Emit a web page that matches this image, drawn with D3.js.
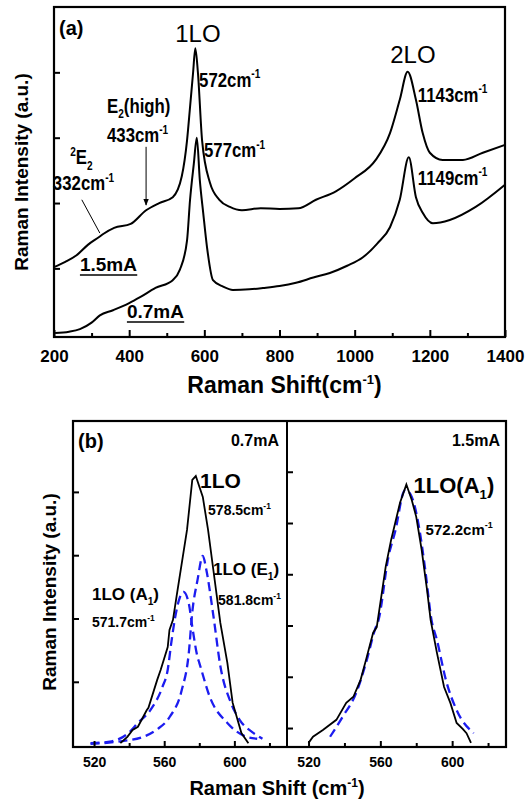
<!DOCTYPE html>
<html>
<head>
<meta charset="utf-8">
<script src="https://cdn.jsdelivr.net/npm/d3@7"></script>
<style>
  body { margin: 0; background: #fff; }
  text { font-family: "Liberation Sans", Arial, sans-serif; fill: #000; }
</style>
</head>
<body>
<svg id="chart" width="526" height="801"></svg>
<script>
// ---- panel (a): full spectra, Raman shift (cm-1) vs intensity (a.u.)
const shift15 = [200,230,260,290,320,332,360,404,445,480,516,540,554,562,570,576,583,594,615,640,668,700,750,800,850,897,950,1000,1056,1094,1120,1141,1163,1181,1200,1234,1288,1341,1400];
const int15   = [1.02,1.10,1.20,1.36,1.48,1.53,1.62,1.68,1.89,2.00,2.09,2.41,2.96,3.47,3.99,4.37,3.99,2.96,2.31,2.05,1.94,1.89,1.92,1.91,1.92,2.05,2.18,2.38,2.66,3.07,3.58,4.01,3.58,3.07,2.77,2.66,2.66,2.77,2.89];
const shift07 = [203,240,269,300,322,357,400,429,470,516,535,554,562,572,580,588,597,607,623,650,676,720,756,800,844,890,934,980,1022,1060,1094,1120,1144,1163,1181,1208,1253,1322,1400];
const int07   = [0.01,0.03,0.07,0.17,0.28,0.36,0.47,0.56,0.70,0.82,0.98,1.43,2.05,2.60,3.00,2.35,1.85,1.33,0.82,0.72,0.67,0.68,0.70,0.73,0.78,0.86,0.93,1.04,1.17,1.38,1.63,2.05,2.70,2.09,1.85,1.69,1.74,1.94,2.28];
const ticksA = [200,400,600,800,1000,1200,1400];
const minorA = [300,500,700,900,1100,1300];
const yTicksA = [1,2,3,4];

// ---- panel (b): 1LO band, measured (black) and fitted (blue dashed)
const shiftB07 = [535,539,542,545,550,551,556,558,562,563,565,567,573,576,578,582,585,588,592,596,599,604,608];
const intB07   = [0.03,0.13,0.24,0.29,0.55,0.59,1.03,1.19,1.55,1.82,1.98,2.34,3.40,4.19,4.25,3.92,3.40,2.77,1.93,1.30,0.67,0.19,0.03];
const shiftA1  = [518,530,540,545,552,559,562,564,566,569,571,574,576,579,580,586,596,607,613];
const intA1    = [0.03,0.06,0.20,0.35,0.55,0.92,1.19,1.61,1.98,2.34,2.42,2.24,1.87,1.39,1.30,0.76,0.35,0.13,0.10];
const shiftE1  = [518,535,548,556,563,570,574,576,579,582,584,588,592,598,603,611,616];
const intE1    = [0.02,0.06,0.13,0.25,0.44,0.87,1.45,2.10,2.61,2.99,2.77,2.05,1.25,0.67,0.40,0.19,0.10];
const shiftB15 = [520,522.5,528,535.5,541,545,549,552,556,558,563,566,571,574.5,577.5,580,583,586,588,591.5,595.5,599,602.5,606,608,610.5];
const intB15   = [0.71,0.83,0.96,1.16,1.49,1.61,1.94,2.33,2.86,2.97,4.15,4.67,5.40,5.75,5.45,5.12,4.48,3.70,3.11,2.47,1.80,1.49,1.10,0.98,0.90,0.71];
const shiftFit15 = [532,539,546.5,552,557,559,564.5,568.5,573,574,577.5,581.5,585,588.5,591.5,596.5,602.5,612];
const intFit15   = [0.83,1.22,1.68,2.27,2.92,3.11,4.34,4.87,5.61,5.65,5.51,4.93,4.09,3.11,2.72,1.94,1.35,0.90];
const ticksB = [520,560,600];
const minorB = [540,580,620];
const yTicksBL = [1,2,3,4];
const yTicksBR = [1,2,3,4,5,6];

const svg = d3.select('#chart');
const zip = (xs, ys) => xs.map((x, i) => ({ x: x, y: ys[i] }));

// text with sub/superscripts: parts = [[string, 'sup'|'sub'|undefined], ...]
function rich(g, x, y, parts, o) {
  const t = g.append('text')
  .attr('transform', `translate(${x},${y}) scale(${o.sx || 1},1)`)
  .attr('font-size', o.size)
  .attr('font-weight', o.weight || 'bold')
  .attr('text-anchor', o.anchor || 'start');
  let prev = 0;
  parts.forEach(function (p) {
    const off = p[1] === 'sup' ? -0.42 * o.size : p[1] === 'sub' ? 0.28 * o.size : 0;
    t.append('tspan')
    .attr('dy', off - prev)
    .attr('font-size', p[1] ? o.size * 0.6 : o.size)
    .text(p[0]);
    prev = off;
  });
  return t;
}
const cm = v => [[v + 'cm'], ['-1', 'sup']];

// ================= panel (a)
const A = { left: 54, right: 505, top: 7, bottom: 337 };
const xA = d3.scaleLinear().domain([200, 1400]).range([A.left, A.right]);
const yA = d3.scaleLinear().domain([-0.05, 5]).range([A.bottom, A.top]);
const gA = svg.append('g');

const lineA = d3.line().x(d => xA(d.x)).y(d => yA(d.y)).curve(d3.curveMonotoneX);
[zip(shift15, int15), zip(shift07, int07)].forEach(function (s) {
  gA.append('path')
  .attr('d', lineA(s))
  .attr('fill', 'none')
  .attr('stroke', '#000')
  .attr('stroke-width', 2);
});

gA.append('g')
.attr('transform', `translate(0,${A.bottom})`)
.call(d3.axisBottom(xA).tickValues(ticksA).tickFormat(d3.format('d')).tickSize(-7).tickPadding(13))
.call(g => g.select('.domain').remove())
.call(g => g.selectAll('text').attr('font-size', 17).attr('font-weight', 'bold').attr('font-family', null))
.call(g => g.selectAll('line').attr('stroke-width', 2));
gA.append('g')
.attr('transform', `translate(0,${A.bottom})`)
.call(d3.axisBottom(xA).tickValues(minorA).tickSize(-4).tickFormat(''))
.call(g => g.select('.domain').remove())
.call(g => g.selectAll('line').attr('stroke-width', 2));
gA.append('g')
.attr('transform', `translate(${A.left},0)`)
.call(d3.axisLeft(yA).tickValues(yTicksA).tickSize(-6).tickFormat(''))
.call(g => g.select('.domain').remove())
.call(g => g.selectAll('line').attr('stroke-width', 2));

gA.append('rect')
.attr('x', A.left).attr('y', A.top)
.attr('width', A.right - A.left).attr('height', A.bottom - A.top)
.attr('fill', 'none').attr('stroke', '#000').attr('stroke-width', 2.2);

rich(gA, A.left + 5, A.top + 28, [['(a)']], { size: 20 });
rich(gA, xA(583), yA(4.46), [['1LO']], { size: 24, weight: 'normal', anchor: 'middle' });
rich(gA, xA(1155), yA(4.14), [['2LO']], { size: 24, weight: 'normal', anchor: 'middle' });
const smallA = { size: 20, sx: 0.84 };
rich(gA, xA(586), yA(3.78), cm('572'), smallA);
rich(gA, xA(599), yA(2.70), cm('577'), smallA);
rich(gA, xA(1168), yA(3.55), cm('1143'), smallA);
rich(gA, xA(1168), yA(2.28), cm('1149'), smallA);
rich(gA, xA(341), yA(3.38), [['E'], ['2', 'sub'], ['(high)']], smallA);
rich(gA, xA(341), yA(2.93), cm('433'), smallA);
rich(gA, xA(243), yA(2.59), [['2', 'sup'], ['E'], ['2', 'sub']], smallA);
rich(gA, xA(197), yA(2.20), cm('332'), smallA);

// underlined current labels
[['1.5mA', 269, 0.96], ['0.7mA', 394, 0.24]].forEach(function (d) {
  const t = rich(gA, xA(d[1]), yA(d[2]), [[d[0]]], { size: 19 });
  const w = t.node().getBBox().width;
  gA.append('line')
  .attr('x1', xA(d[1])).attr('x2', xA(d[1]) + w)
  .attr('y1', yA(d[2]) + 4).attr('y2', yA(d[2]) + 4)
  .attr('stroke', '#000').attr('stroke-width', 1.6);
});

// pointer lines
svg.append('defs').append('marker')
.attr('id', 'arrow').attr('viewBox', '0 0 10 10')
.attr('refX', 9).attr('refY', 5)
.attr('markerWidth', 7).attr('markerHeight', 7)
.attr('orient', 'auto')
.append('path').attr('d', 'M0,1 L10,5 L0,9 z').attr('fill', '#000');
gA.append('line')
.attr('x1', xA(445)).attr('y1', yA(2.86))
.attr('x2', xA(445)).attr('y2', yA(1.97))
.attr('stroke', '#000').attr('stroke-width', 1)
.attr('marker-end', 'url(#arrow)');
gA.append('line')
.attr('x1', xA(274)).attr('y1', yA(2.05))
.attr('x2', xA(322)).attr('y2', yA(1.54))
.attr('stroke', '#000').attr('stroke-width', 1);

gA.append('text')
.attr('transform', `translate(${(A.left + A.right) / 2 + 5},393)`)
.attr('text-anchor', 'middle')
.attr('font-size', 23).attr('font-weight', 'bold')
.call(t => { t.append('tspan').text('Raman Shift(cm'); t.append('tspan').attr('dy', -9).attr('font-size', 13).text('-1'); t.append('tspan').attr('dy', 9).text(')'); });
gA.append('text')
.attr('transform', `translate(28,${(A.top + A.bottom) / 2})rotate(-90)`)
.attr('text-anchor', 'middle')
.attr('font-size', 19).attr('font-weight', 'bold')
.text('Raman Intensity (a.u.)');

// ================= panel (b)
const B = { left: 73, mid: 287, right: 506, top: 421, bottom: 747 };
const xBL = d3.scaleLinear().domain([508, 630]).range([B.left, B.mid]);
const xBR = d3.scaleLinear().domain([508, 630]).range([B.mid, B.right]);
const yBL = d3.scaleLinear().domain([-0.03, 5.12]).range([B.bottom, B.top]);
const yBR = d3.scaleLinear().domain([0.63, 6.99]).range([B.bottom, B.top]);
const gB = svg.append('g');

const lineBL = d3.line().x(d => xBL(d.x)).y(d => yBL(d.y));
const lineBR = d3.line().x(d => xBR(d.x)).y(d => yBR(d.y));
const blue = '#1c1cf0';

[zip(shiftA1, intA1), zip(shiftE1, intE1)].forEach(function (s) {
  gB.append('path')
  .attr('d', lineBL.curve(d3.curveMonotoneX)(s))
  .attr('fill', 'none').attr('stroke', blue)
  .attr('stroke-width', 2.3).attr('stroke-dasharray', '9,5');
});
gB.append('path')
.attr('d', lineBL.curve(d3.curveLinear)(zip(shiftB07, intB07)))
.attr('fill', 'none').attr('stroke', '#000').attr('stroke-width', 1.8);

gB.append('path')
.attr('d', lineBR.curve(d3.curveMonotoneX)(zip(shiftFit15, intFit15)))
.attr('fill', 'none').attr('stroke', blue)
.attr('stroke-width', 2.3).attr('stroke-dasharray', '9,5');
gB.append('path')
.attr('d', lineBR.curve(d3.curveLinear)(zip(shiftB15, intB15)))
.attr('fill', 'none').attr('stroke', '#000').attr('stroke-width', 1.8);

[xBL, xBR].forEach(function (x) {
  gB.append('g')
  .attr('transform', `translate(0,${B.bottom})`)
  .call(d3.axisBottom(x).tickValues(ticksB).tickFormat(d3.format('d')).tickSize(-6).tickPadding(10))
  .call(g => g.select('.domain').remove())
  .call(g => g.selectAll('text').attr('font-size', 14).attr('font-weight', 'bold').attr('font-family', null))
  .call(g => g.selectAll('line').attr('stroke-width', 2));
  gB.append('g')
  .attr('transform', `translate(0,${B.bottom})`)
  .call(d3.axisBottom(x).tickValues(minorB).tickSize(-4).tickFormat(''))
  .call(g => g.select('.domain').remove())
  .call(g => g.selectAll('line').attr('stroke-width', 2));
});
gB.append('g')
.attr('transform', `translate(${B.left},0)`)
.call(d3.axisLeft(yBL).tickValues(yTicksBL).tickSize(-6).tickFormat(''))
.call(g => g.select('.domain').remove())
.call(g => g.selectAll('line').attr('stroke-width', 2));
gB.append('g')
.attr('transform', `translate(${B.mid},0)`)
.call(d3.axisRight(yBR).tickValues(yTicksBR).tickSize(6).tickFormat(''))
.call(g => g.select('.domain').remove())
.call(g => g.selectAll('line').attr('stroke-width', 2));

gB.append('rect')
.attr('x', B.left).attr('y', B.top)
.attr('width', B.right - B.left).attr('height', B.bottom - B.top)
.attr('fill', 'none').attr('stroke', '#000').attr('stroke-width', 2.2);
gB.append('line')
.attr('x1', B.mid).attr('x2', B.mid).attr('y1', B.top).attr('y2', B.bottom)
.attr('stroke', '#000').attr('stroke-width', 2);

rich(gB, B.left + 5, B.top + 27, [['(b)']], { size: 20 });
rich(gB, B.mid - 8, B.top + 25, [['0.7mA']], { size: 16, anchor: 'end' });
rich(gB, B.right - 6, B.top + 25, [['1.5mA']], { size: 16, anchor: 'end' });

rich(gB, xBL(580.4), yBL(4.06), [['1LO']], { size: 21 });
rich(gB, xBL(585), yBL(3.64), cm('578.5'), { size: 14 });
rich(gB, xBL(587.8), yBL(2.69), [['1LO (E'], ['1', 'sub'], [')']], { size: 17 });
rich(gB, xBL(590.7), yBL(2.21), cm('581.8'), { size: 14 });
rich(gB, xBL(518.8), yBL(2.29), [['1LO (A'], ['1', 'sub'], [')']], { size: 17 });
rich(gB, xBL(518.8), yBL(1.87), cm('571.7'), { size: 14 });
rich(gB, xBR(578.5), yBR(5.59), [['1LO(A'], ['1', 'sub'], [')']], { size: 22 });
rich(gB, xBR(585.2), yBR(4.77), cm('572.2'), { size: 15 });

gB.append('text')
.attr('transform', `translate(277,795)`)
.attr('text-anchor', 'middle')
.attr('font-size', 20).attr('font-weight', 'bold')
.call(t => { t.append('tspan').text('Raman Shift (cm'); t.append('tspan').attr('dy', -8).attr('font-size', 12).text('-1'); t.append('tspan').attr('dy', 8).text(')'); });
gB.append('text')
.attr('transform', `translate(56,${(B.top + B.bottom) / 2 + 8})rotate(-90)`)
.attr('text-anchor', 'middle')
.attr('font-size', 19).attr('font-weight', 'bold')
.text('Raman Intensity (a.u.)');
</script>
</body>
</html>
